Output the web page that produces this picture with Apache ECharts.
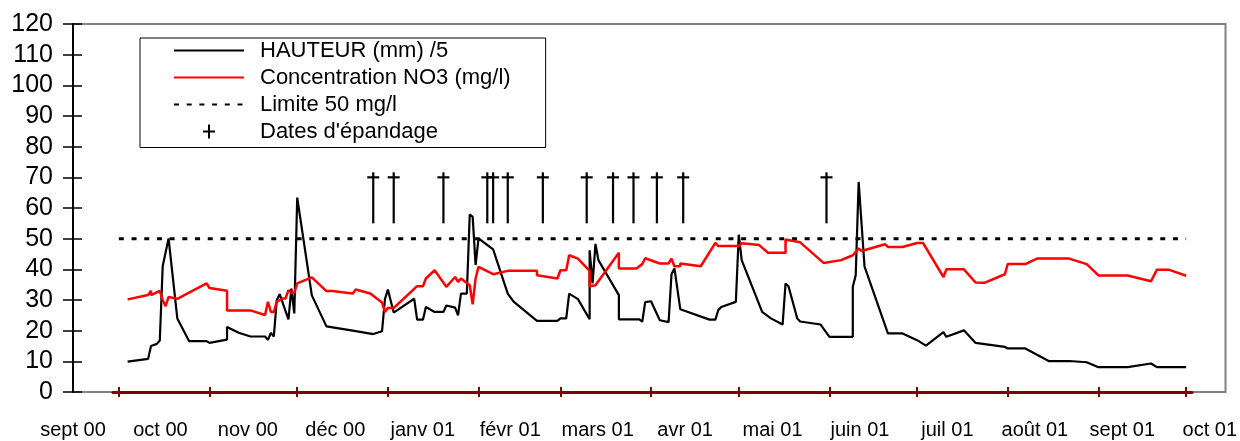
<!DOCTYPE html>
<html>
<head>
<meta charset="utf-8">
<script src="https://cdn.jsdelivr.net/npm/echarts@6.0.0/dist/echarts.min.js"></script>
<style>
  html, body { margin: 0; background: #fff; }
  #chart { width: 1240px; height: 441px; }
</style>
</head>
<body>
<div id="chart"></div>
<script>
// month labels under the plot (evenly spaced, as in the original sheet)
const monthLabels = ['sept 00', 'oct 00', 'nov 00', 'déc 00', 'janv 01', 'févr 01', 'mars 01',
  'avr 01', 'mai 01', 'juin 01', 'juil 01', 'août 01', 'sept 01', 'oct 01']

// HAUTEUR (mm) /5
const hauteurDates = [
  '2000-10-04', '2000-10-11', '2000-10-12', '2000-10-14', '2000-10-15', '2000-10-16', '2000-10-18',
  '2000-10-21', '2000-10-25', '2000-10-31', '2000-11-01', '2000-11-07', '2000-11-07', '2000-11-11',
  '2000-11-15', '2000-11-20', '2000-11-21', '2000-11-22', '2000-11-23', '2000-11-24', '2000-11-25',
  '2000-11-28', '2000-11-29', '2000-11-30', '2000-12-01', '2000-12-06', '2000-12-11', '2000-12-20',
  '2000-12-27', '2000-12-30', '2000-12-31', '2001-01-01', '2001-01-03', '2001-01-10', '2001-01-11',
  '2001-01-13', '2001-01-14', '2001-01-17', '2001-01-20', '2001-01-21', '2001-01-24', '2001-01-25',
  '2001-01-26', '2001-01-28', '2001-01-29', '2001-01-30', '2001-01-31', '2001-02-01', '2001-02-06',
  '2001-02-11', '2001-02-13', '2001-02-21', '2001-02-28', '2001-03-01', '2001-03-03', '2001-03-04',
  '2001-03-07', '2001-03-11', '2001-03-11', '2001-03-12', '2001-03-13', '2001-03-14', '2001-03-21',
  '2001-03-21', '2001-03-28', '2001-03-29', '2001-03-30', '2001-04-01', '2001-04-04', '2001-04-07',
  '2001-04-08', '2001-04-09', '2001-04-11', '2001-04-21', '2001-04-23', '2001-04-24', '2001-04-25',
  '2001-04-30', '2001-05-01', '2001-05-02', '2001-05-09', '2001-05-12', '2001-05-16', '2001-05-17',
  '2001-05-18', '2001-05-21', '2001-05-22', '2001-05-29', '2001-06-01', '2001-06-09', '2001-06-09',
  '2001-06-10', '2001-06-11', '2001-06-13', '2001-06-21', '2001-06-26', '2001-07-01', '2001-07-04',
  '2001-07-10', '2001-07-11', '2001-07-17', '2001-07-21', '2001-07-31', '2001-08-01', '2001-08-07',
  '2001-08-15', '2001-08-22', '2001-08-28', '2001-09-01', '2001-09-11', '2001-09-19', '2001-09-21',
  '2001-10-01'
]
const hauteurValues = [
  9.9, 10.8, 15.0, 15.7, 16.8, 41.0, 50.1,
  24.0, 16.6, 16.6, 16.0, 17.1, 21.2, 19.3,
  18.1, 18.1, 17.0, 19.3, 18.1, 29.9, 31.9,
  23.7, 33.7, 25.6, 63.4, 31.5, 21.4, 20.0,
  18.9, 19.8, 30.3, 33.4, 25.9, 30.4, 23.6,
  23.6, 27.7, 26.1, 26.1, 28.2, 27.5, 25.0,
  32.1, 32.1, 57.9, 57.1, 41.4, 50.1, 46.5,
  32.1, 29.5, 23.2, 23.2, 24.0, 24.0, 32.1,
  30.3, 23.7, 46.2, 35.4, 48.3, 43.0, 31.6,
  23.7, 23.7, 22.9, 29.3, 29.6, 23.4, 22.8,
  38.4, 40.3, 27.0, 23.6, 23.6, 26.7, 27.7,
  29.4, 51.3, 43.0, 26.1, 24.0, 22.0, 35.4,
  34.5, 24.0, 23.0, 22.0, 18.0, 18.0, 34.3,
  38.1, 68.5, 41.0, 19.1, 19.1, 16.9, 15.1,
  19.5, 18.0, 20.1, 16.0, 14.7, 14.2, 14.2,
  10.1, 10.1, 9.7, 8.1, 8.1, 9.3, 8.1,
  8.1
]

// Concentration NO3 (mg/l)
const no3Dates = [
  '2000-10-04', '2000-10-11', '2000-10-12', '2000-10-12', '2000-10-15', '2000-10-16', '2000-10-17',
  '2000-10-18', '2000-10-21', '2000-10-31', '2000-11-01', '2000-11-07', '2000-11-07', '2000-11-15',
  '2000-11-20', '2000-11-21', '2000-11-22', '2000-11-23', '2000-11-24', '2000-11-26', '2000-11-27',
  '2000-11-28', '2000-11-29', '2000-11-30', '2000-12-01', '2000-12-06', '2000-12-11', '2000-12-13',
  '2000-12-20', '2000-12-21', '2000-12-26', '2000-12-30', '2000-12-31', '2001-01-01', '2001-01-03',
  '2001-01-11', '2001-01-13', '2001-01-14', '2001-01-17', '2001-01-21', '2001-01-24', '2001-01-25',
  '2001-01-26', '2001-01-29', '2001-01-30', '2001-01-31', '2001-02-01', '2001-02-06', '2001-02-11',
  '2001-02-21', '2001-02-21', '2001-02-28', '2001-03-01', '2001-03-03', '2001-03-04', '2001-03-07',
  '2001-03-11', '2001-03-11', '2001-03-13', '2001-03-21', '2001-03-21', '2001-03-27', '2001-03-29',
  '2001-03-30', '2001-04-04', '2001-04-07', '2001-04-08', '2001-04-09', '2001-04-11', '2001-04-11',
  '2001-04-18', '2001-04-23', '2001-04-24', '2001-05-01', '2001-05-02', '2001-05-08', '2001-05-11',
  '2001-05-17', '2001-05-17', '2001-05-22', '2001-05-30', '2001-06-05', '2001-06-09', '2001-06-10',
  '2001-06-11', '2001-06-12', '2001-06-20', '2001-06-21', '2001-06-26', '2001-07-01', '2001-07-03',
  '2001-07-10', '2001-07-11', '2001-07-17', '2001-07-21', '2001-07-24', '2001-07-31', '2001-08-01',
  '2001-08-07', '2001-08-11', '2001-08-22', '2001-08-28', '2001-09-01', '2001-09-11', '2001-09-19',
  '2001-09-21', '2001-09-25', '2001-10-01'
]
const no3Values = [
  30.2, 31.6, 33.0, 31.6, 33.0, 29.9, 28.0,
  31.0, 30.4, 35.4, 33.9, 33.0, 26.6, 26.6,
  25.1, 29.4, 26.1, 26.1, 29.4, 30.5, 30.5,
  33.2, 32.3, 32.3, 35.4, 37.4, 32.9, 32.9,
  32.1, 33.4, 32.1, 29.2, 26.1, 27.4, 27.4,
  34.5, 34.5, 37.0, 39.7, 34.3, 37.5, 35.9,
  37.0, 34.8, 28.6, 37.0, 40.8, 38.4, 39.5,
  39.5, 38.1, 37.0, 39.7, 39.7, 44.6, 43.5,
  39.5, 34.5, 34.8, 45.4, 40.3, 40.3, 41.7,
  43.6, 41.9, 41.9, 43.5, 41.0, 41.0, 41.9,
  41.0, 48.6, 47.6, 47.6, 48.5, 47.9, 45.4,
  45.4, 49.7, 48.8, 42.1, 43.0, 44.6, 45.7,
  46.8, 46.0, 48.2, 47.3, 47.3, 48.6, 48.6,
  37.5, 40.0, 40.0, 35.7, 35.6, 38.4, 41.7,
  41.7, 43.5, 43.5, 41.7, 38.0, 38.0, 36.1,
  39.9, 39.9, 37.9
]

// Limite 50 mg/l
const limitDates = ['2000-10-01', '2001-10-01']
const limitValues = [50, 50]

// Dates d'épandage
const epandageDates = [
  '2000-12-27', '2001-01-03', '2001-01-20', '2001-02-04', '2001-02-06', '2001-02-11', '2001-02-23',
  '2001-03-10', '2001-03-19', '2001-03-26', '2001-04-03', '2001-04-12', '2001-05-31'
]
const epandageValues = [70, 70, 70, 70, 70, 70, 70, 70, 70, 70, 70, 70, 70]

const FONT = '"Liberation Sans", Arial, sans-serif'
const DARK_RED = '#800000'
const pair = (dates, values) => dates.map((d, i) => [d, values[i]])

const timeMin = new Date(2000, 8, 29).getTime()
const timeMax = new Date(2001, 9, 3).getTime()
const monthTicks = []
for (let m = 0; m <= 12; m++) monthTicks.push(new Date(2000, 9 + m, 1).getTime())

const chart = echarts.init(document.getElementById('chart'), null, { renderer: 'canvas' })

chart.setOption({
  animation: false,
  textStyle: { fontFamily: FONT },
  grid: [
    { left: 73, right: 13, top: 24, bottom: 49, show: true, borderColor: '#808080', borderWidth: 2 },
    { left: 113, right: 48, top: 24, bottom: 49 }
  ],
  legend: {
    left: 140, top: 38, orient: 'vertical', align: 'left',
    padding: [1.5, 35, 5, 33],
    itemWidth: 70, itemHeight: 14, itemGap: 5,
    borderColor: '#000', borderWidth: 1, backgroundColor: '#fff',
    selectedMode: false,
    textStyle: { fontSize: 22, fontFamily: FONT, color: '#000', lineHeight: 22, padding: [0, 0, 0, 11] },
    data: [
      { name: 'HAUTEUR (mm) /5', itemStyle: { opacity: 0 } },
      { name: 'Concentration NO3 (mg/l)', itemStyle: { opacity: 0 } },
      { name: 'Limite 50 mg/l', itemStyle: { opacity: 0 } },
      { name: "Dates d'épandage", icon: 'path://M5,0H7V14H5ZM0,6H12V8H0Z', itemStyle: { color: '#000' } }
    ]
  },
  xAxis: [
    {
      gridIndex: 0, type: 'value', min: 0, max: 13.18, position: 'bottom',
      axisLine: { show: false }, axisTick: { show: false }, splitLine: { show: false },
      axisLabel: {
        customValues: monthLabels.map((_, i) => i),
        formatter: v => monthLabels[Math.round(v)],
        fontSize: 20, lineHeight: 20, color: '#000', margin: 28, fontFamily: FONT
      }
    },
    {
      gridIndex: 1, type: 'time', min: timeMin, max: timeMax, position: 'bottom', z: 3,
      axisLine: { show: true, onZero: false, lineStyle: { color: DARK_RED, width: 3 } },
      axisTick: { show: true, customValues: monthTicks, length: 5, lineStyle: { color: DARK_RED, width: 2 } },
      axisLabel: { show: false }, splitLine: { show: false }
    },
    {
      gridIndex: 1, type: 'time', min: timeMin, max: timeMax, position: 'bottom', z: 3,
      axisLine: { show: false, onZero: false },
      axisTick: { show: true, inside: true, customValues: monthTicks, length: 5, lineStyle: { color: DARK_RED, width: 2 } },
      axisLabel: { show: false }, splitLine: { show: false }
    }
  ],
  yAxis: [
    {
      gridIndex: 0, type: 'value', min: 0, max: 120, interval: 10, position: 'left', z: 3,
      axisLine: { show: true, onZero: false, lineStyle: { color: '#000', width: 2 } },
      axisTick: { show: true, length: 10, lineStyle: { color: '#000', width: 1.5 } },
      axisLabel: { fontSize: 25, color: '#000', margin: 20, fontFamily: FONT },
      splitLine: { show: false }
    },
    {
      gridIndex: 0, type: 'value', min: 0, max: 120, interval: 10, position: 'left', z: 3,
      axisLine: { show: false, onZero: false },
      axisTick: { show: true, inside: true, length: 9, lineStyle: { color: '#000', width: 1.5 } },
      axisLabel: { show: false }, splitLine: { show: false }
    },
    { gridIndex: 1, type: 'value', min: 0, max: 120, show: false }
  ],
  series: [
    {
      name: 'HAUTEUR (mm) /5', type: 'line', xAxisIndex: 1, yAxisIndex: 2,
      data: pair(hauteurDates, hauteurValues),
      symbol: 'none', lineStyle: { color: '#000', width: 2.2 }, itemStyle: { color: '#000' }, z: 4
    },
    {
      name: 'Concentration NO3 (mg/l)', type: 'line', xAxisIndex: 1, yAxisIndex: 2,
      data: pair(no3Dates, no3Values),
      symbol: 'none', lineStyle: { color: '#ff0000', width: 2.5 }, itemStyle: { color: '#ff0000' }, z: 5
    },
    {
      name: 'Limite 50 mg/l', type: 'line', xAxisIndex: 1, yAxisIndex: 2,
      data: pair(limitDates, limitValues),
      symbol: 'none', lineStyle: { color: '#000', width: 3, type: [5, 7.7] }, itemStyle: { color: '#000' }, z: 3
    },
    {
      name: "Dates d'épandage", type: 'custom', xAxisIndex: 1, yAxisIndex: 2,
      data: pair(epandageDates, epandageValues),
      itemStyle: { color: '#000' },
      renderItem: (params, api) => {
        const cross = api.coord([api.value(0), api.value(1)])
        const foot = api.coord([api.value(0), 55])
        const style = { stroke: '#000', lineWidth: 2.2 }
        return {
          type: 'group',
          children: [
            { type: 'line', shape: { x1: cross[0], y1: cross[1] - 5, x2: foot[0], y2: foot[1] }, style },
            { type: 'line', shape: { x1: cross[0] - 6, y1: cross[1], x2: cross[0] + 6, y2: cross[1] }, style }
          ]
        }
      }
    }
  ]
})
</script>
</body>
</html>
